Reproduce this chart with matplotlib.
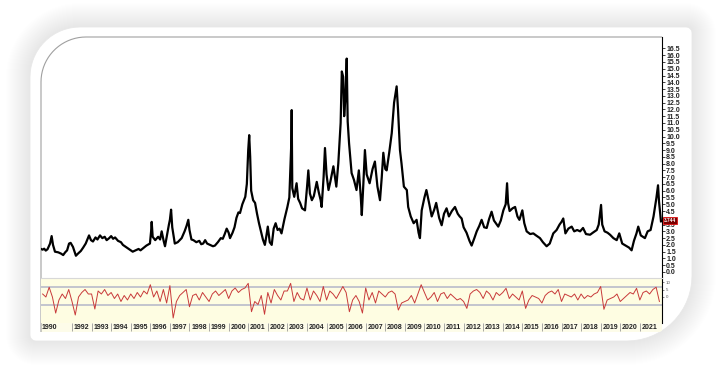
import numpy as np
import matplotlib
matplotlib.use("Agg")
import matplotlib.pyplot as plt
from matplotlib.path import Path
from matplotlib.patches import PathPatch, Rectangle
from matplotlib.transforms import ScaledTranslation

plt.rcParams['font.family'] = ['Liberation Sans', 'DejaVu Sans']

# price (decimal year, value)
price_years = [
    1990.42, 1990.50, 1990.58, 1990.66, 1990.75, 1990.88, 1990.96, 1991.03, 1991.13, 1991.30,
    1991.45, 1991.55, 1991.65, 1991.75, 1991.85, 1991.93, 1992.05, 1992.20, 1992.30, 1992.45,
    1992.57, 1992.70, 1992.80, 1992.87, 1992.97, 1993.07, 1993.20, 1993.30, 1993.43, 1993.55,
    1993.67, 1993.77, 1993.90, 1994.00, 1994.10, 1994.20, 1994.35, 1994.50, 1994.60, 1994.75,
    1994.90, 1995.00, 1995.10, 1995.25, 1995.40, 1995.50, 1995.63, 1995.80, 1995.98, 1996.04,
    1996.07, 1996.12, 1996.25, 1996.40, 1996.50, 1996.58, 1996.68, 1996.75, 1996.85, 1996.95,
    1997.00, 1997.06, 1997.12, 1997.25, 1997.40, 1997.50, 1997.60, 1997.75, 1997.85, 1997.94,
    1998.00, 1998.10, 1998.20, 1998.35, 1998.50, 1998.60, 1998.70, 1998.80, 1998.90, 1999.05,
    1999.20, 1999.30, 1999.45, 1999.60, 1999.70, 1999.80, 1999.90, 2000.00, 2000.07, 2000.20,
    2000.30, 2000.40, 2000.50, 2000.58, 2000.70, 2000.85, 2000.93, 2001.00, 2001.05, 2001.10,
    2001.15, 2001.25, 2001.35, 2001.45, 2001.55, 2001.65, 2001.75, 2001.85, 2001.92, 2002.00,
    2002.10, 2002.20, 2002.30, 2002.40, 2002.50, 2002.60, 2002.70, 2002.85, 2003.00, 2003.10,
    2003.20, 2003.22, 2003.25, 2003.35, 2003.47, 2003.55, 2003.65, 2003.75, 2003.90, 2004.00,
    2004.07, 2004.15, 2004.25, 2004.35, 2004.50, 2004.60, 2004.70, 2004.75, 2004.85, 2004.92,
    2005.00, 2005.10, 2005.20, 2005.35, 2005.45, 2005.50, 2005.60, 2005.68, 2005.72, 2005.78,
    2005.85, 2005.90, 2005.97, 2006.03, 2006.08, 2006.15, 2006.28, 2006.40, 2006.53, 2006.65,
    2006.75, 2006.80, 2006.88, 2006.96, 2007.05, 2007.20, 2007.35, 2007.47, 2007.60, 2007.73,
    2007.82, 2007.90, 2008.00, 2008.07, 2008.20, 2008.33, 2008.45, 2008.58, 2008.65, 2008.75,
    2008.83, 2008.95, 2009.10, 2009.17, 2009.30, 2009.45, 2009.60, 2009.70, 2009.77, 2009.86,
    2010.00, 2010.10, 2010.25, 2010.37, 2010.50, 2010.60, 2010.75, 2010.88, 2011.00, 2011.13,
    2011.25, 2011.40, 2011.56, 2011.70, 2011.80, 2011.90, 2012.00, 2012.15, 2012.30, 2012.41,
    2012.55, 2012.67, 2012.80, 2012.92, 2013.05, 2013.18, 2013.30, 2013.43, 2013.55, 2013.65,
    2013.77, 2013.90, 2014.03, 2014.15, 2014.22, 2014.27, 2014.35, 2014.50, 2014.63, 2014.75,
    2014.85, 2014.95, 2015.00, 2015.10, 2015.22, 2015.40, 2015.56, 2015.70, 2015.90, 2016.05,
    2016.24, 2016.40, 2016.58, 2016.75, 2016.90, 2017.00, 2017.09, 2017.20, 2017.35, 2017.52,
    2017.65, 2017.80, 2017.95, 2018.10, 2018.25, 2018.46, 2018.60, 2018.80, 2018.90, 2019.02,
    2019.08, 2019.20, 2019.35, 2019.48, 2019.65, 2019.82, 2019.95, 2020.10, 2020.33, 2020.45,
    2020.58, 2020.70, 2020.83, 2020.92, 2021.05, 2021.26, 2021.40, 2021.55, 2021.70, 2021.85,
    2021.93, 2021.98, 2022.03, 2022.08,
]
price_values = [
    1.70, 1.65, 1.72, 1.58, 1.68, 2.10, 2.65, 2.00, 1.50, 1.45,
    1.35, 1.25, 1.45, 1.60, 2.10, 2.15, 1.85, 1.20, 1.35, 1.55,
    1.80, 2.10, 2.45, 2.70, 2.35, 2.25, 2.55, 2.40, 2.70, 2.50,
    2.60, 2.35, 2.50, 2.65, 2.45, 2.55, 2.30, 2.20, 2.00, 1.85,
    1.70, 1.60, 1.50, 1.60, 1.70, 1.60, 1.75, 1.95, 2.10, 3.00,
    3.70, 2.60, 2.35, 2.60, 2.40, 3.00, 2.30, 1.90, 2.70, 3.50,
    3.85, 4.60, 3.30, 2.10, 2.20, 2.35, 2.50, 3.00, 3.40, 3.85,
    3.10, 2.40, 2.35, 2.20, 2.30, 2.05, 2.10, 2.35, 2.10, 2.00,
    1.90, 1.95, 2.20, 2.50, 2.45, 2.80, 3.20, 2.90, 2.50, 2.90,
    3.30, 4.00, 4.40, 4.35, 5.00, 5.55, 6.50, 9.00, 10.10, 8.50,
    6.00, 5.30, 5.10, 4.30, 3.60, 3.00, 2.40, 2.00, 2.60, 3.35,
    2.20, 2.00, 3.20, 3.60, 3.10, 3.20, 2.85, 3.90, 4.80, 5.50,
    9.50, 11.95, 6.20, 5.55, 6.55, 5.40, 5.10, 4.70, 4.55, 6.20,
    7.50, 5.80, 5.30, 5.60, 6.65, 5.90, 5.30, 4.80, 7.00, 9.15,
    7.20, 6.05, 6.70, 7.80, 6.80, 6.30, 8.00, 10.00, 11.00, 14.80,
    14.40, 11.50, 13.00, 15.75, 11.10, 9.50, 7.30, 6.80, 6.05, 7.50,
    5.50, 4.20, 6.50, 9.00, 7.20, 6.55, 7.60, 8.15, 6.30, 5.30,
    7.00, 8.80, 7.60, 7.50, 8.80, 10.25, 12.50, 13.70, 12.00, 9.00,
    8.00, 6.30, 6.05, 4.80, 4.10, 3.60, 3.85, 2.90, 2.50, 4.55,
    5.50, 6.05, 5.00, 4.10, 4.60, 5.10, 4.00, 3.45, 4.30, 4.70,
    4.10, 4.50, 4.80, 4.30, 4.10, 3.95, 3.30, 2.90, 2.30, 1.95,
    2.50, 3.00, 3.40, 3.85, 3.30, 3.25, 3.90, 4.45, 3.80, 3.60,
    3.35, 3.80, 4.55, 5.00, 6.55, 5.10, 4.50, 4.70, 4.80, 4.10,
    3.85, 4.30, 4.55, 3.60, 3.00, 2.80, 2.85, 2.70, 2.50, 2.20,
    1.90, 2.10, 2.85, 3.10, 3.50, 3.70, 3.95, 2.85, 3.20, 3.35,
    3.00, 3.10, 3.00, 3.25, 2.80, 2.75, 2.90, 3.10, 3.50, 4.95,
    3.50, 3.00, 2.90, 2.75, 2.50, 2.35, 2.85, 2.10, 1.90, 1.80,
    1.60, 2.30, 2.85, 3.35, 2.70, 2.50, 3.00, 3.10, 4.10, 5.50,
    6.40, 5.20, 4.50, 3.74,
]

# oscillator, one value every two months starting mid 1990
osc_start = 1990.5
osc_values = [
    2, 0, 6.5,
    0, -10.7, -2, 2, -1, 5,
    -3, -12, 0, 3, 5, 2,
    2, -8, 4, 2, 5, 1,
    3, -1, 2, -3, 1, -2,
    2, -1, 3, 0, 4, 2,
    8.2, 0, 4, -3, 5, -4,
    7.6, -14, -3, 1, 3, 5,
    -6.5, 1, 2, -2, 3, 0,
    -3, 2, 4, 1, 3, 5,
    -1, 4, 6, 3, 5, 6,
    9.1, -9.8, -3, -5, 1, -11.5,
    3, -4, 5, 1, -2, 4,
    4, 9.1, -3, 3, -1, -2,
    6, -2, 4, 1, -3, 7,
    -2, 4, 2, -1, 3, 7,
    3, -9.8, -2, 1, -3, -10.7,
    6, -2, 3, -4, 4, 2,
    0, 3, 4, 2, -8.7, -4,
    -3, -2, 1, -4, 2, 8.2,
    3, -2, 0, 3, -3, 2,
    3, -1, 2, 0, -2, -1,
    -3, -7.6, 2, 4, 5, 3,
    -1, 4, 2, -2, 3, 1,
    3, 5.8, -1, 2, 0, -2,
    4, -7.6, -2, 1, 0, -1,
    -4, 1, 3, 4, 2, 5,
    -3, 2, 1, 0, 2, -2,
    2, -1, 1, 0, 2, 3,
    7, -8.2, -2, -1, 0, 2,
    -3, -1, 1, 3, 2, 5.8,
    -2, 3, 4, 2, 5, 6.5,
    -3,
]
osc_years = osc_start + np.arange(len(osc_values)) / 6.0

year_ticks = list(range(1992, 2022))
price_ticks = np.arange(0, 16.51, 0.5)
last_value = "3.744"

W, H = 720, 371
fig = plt.figure(figsize=(W / 100, H / 100), dpi=100)
fig.patch.set_facecolor('white')


def fx(x):
    return x / W


def fy(y):
    return 1 - y / H


def card(l, r, t, b, rtl, rtr, rbr, rbl):
    pts = []
    def arc(cx, cy, rad, a0, a1):
        for a in np.linspace(a0, a1, 16):
            pts.append((cx + rad * np.cos(a), cy + rad * np.sin(a)))
    arc(l + rtl, t + rtl, rtl, np.pi, 1.5 * np.pi)
    arc(r - rtr, t + rtr, rtr, 1.5 * np.pi, 2 * np.pi)
    arc(r - rbr, b - rbr, rbr, 0, 0.5 * np.pi)
    arc(l + rbl, b - rbl, rbl, 0.5 * np.pi, np.pi)
    pts.append(pts[0])
    pts = [(fx(x), fy(y)) for x, y in pts]
    return Path(pts, closed=True)


# soft shadow + white card
for d in range(24, 0, -1):
    p = card(30 - d, 692 + d, 27 - d, 341 + d, 50 + d, 6 + d, 65 + d, 6 + d)
    fig.patches.append(PathPatch(p, transform=fig.transFigure, facecolor='k',
                                 edgecolor='none', alpha=0.0045, zorder=0))
card_patch = PathPatch(card(30, 692, 27, 341, 50, 6, 65, 6), transform=fig.transFigure,
                       facecolor='white', edgecolor='#e8e8e8', lw=0.6, zorder=1)
fig.patches.append(card_patch)

L, R = 41, 662
ax = fig.add_axes([fx(L), fy(277), (R - L) / W, (277 - 37) / H])
ax2 = fig.add_axes([fx(L), fy(323), (R - L) / W, (323 - 278) / H])
ax.set_zorder(3)
ax2.set_zorder(3)

xmin = 1992 - (72 - L) / 19.58
xmax = 1992 + (R - 72) / 19.58

# main price panel
ax.set_facecolor('none')
ax.plot(price_years, price_values, color='black', lw=1.6)
ax.set_xlim(xmin, xmax)
ax.set_ylim(-(277 - 272) / 13.55, (272 - 37) / 13.55)
ax.set_xticks([])
ax.yaxis.tick_right()
ax.set_yticks(price_ticks)
ax.set_yticklabels(["" if abs(v - 4.0) < 1e-9 else f"{v:.1f}" for v in price_ticks])
ax.tick_params(axis='y', length=2, width=0.6, pad=1, labelsize=5, colors='#222222')
for lab in ax.get_yticklabels():
    lab.set_fontweight('bold')
for s in ['top', 'left', 'bottom']:
    ax.spines[s].set_visible(False)
ax.spines['right'].set_linewidth(0.8)

# last value marker
ax.text(1.003, 3.82, last_value, transform=ax.get_yaxis_transform(), ha='left', va='center',
        fontsize=3.4, fontweight='bold', color='white',
        bbox=dict(boxstyle='square,pad=0.18', facecolor='#7a0000', edgecolor='#e01010', lw=0.6),
        zorder=5, clip_on=False)

# oscillator panel
ax2.set_facecolor('#fefde2')
ax2.patch.set_clip_path(card_patch)
ax2.axhline(7, color='#b9bccb', lw=1.2)
ax2.axhline(-5.5, color='#b9bccb', lw=1.2)
ln, = ax2.plot(osc_years, osc_values, color='#c83a3a', lw=0.7)
ln.set_clip_path(card_patch)
ax2.set_xlim(xmin, xmax)
ax2.set_ylim(-(323 - 297) / 1.5, (297 - 278) / 1.5)
ax2.yaxis.tick_right()
ax2.set_yticks([10, 5, 0])
ax2.tick_params(axis='y', length=1.5, width=0.5, pad=1, labelsize=3.2, colors='#555555')
for s in ['left', 'bottom']:
    ax2.spines[s].set_visible(False)
ax2.spines['top'].set_color('#d8d8d8')
ax2.spines['top'].set_linewidth(0.8)
ax2.spines['right'].set_linewidth(0.8)

ax2.set_xticks(year_ticks)
ax2.set_xticklabels([str(y) for y in year_ticks])
ax2.tick_params(axis='x', length=6, width=0.6, color='#9a9a9a', pad=-5.0,
                labelsize=5, labelcolor='#222222')
shift = ScaledTranslation(1.2 / 72, 0, fig.dpi_scale_trans)
for lab in ax2.get_xticklabels():
    lab.set_ha('left')
    lab.set_fontweight('bold')
    lab.set_transform(lab.get_transform() + shift)
    lab.set_clip_path(card_patch)
for t in ax2.xaxis.get_ticklines():
    t.set_clip_path(card_patch)
ax2.text(xmin + 0.02, -0.03, "1990", transform=ax2.get_xaxis_transform(), ha='left', va='top',
         fontsize=5, fontweight='bold', color='#222222')

# label strip background
strip = Rectangle((fx(L), fy(332)), (R - L) / W, 9 / H, transform=fig.transFigure,
                  facecolor='#fdfce9', edgecolor='none', zorder=1.5)
strip.set_clip_path(card_patch)
fig.patches.append(strip)

# rounded inner frame line
fr = []
for a in np.linspace(np.pi, 1.5 * np.pi, 20):
    fr.append((L + 45 + 45 * np.cos(a), 37 + 45 + 45 * np.sin(a)))
fr = [(L, 332)] + fr + [(R, 37)]
fig.patches.append(PathPatch(Path([(fx(x), fy(y)) for x, y in fr]), transform=fig.transFigure,
                             facecolor='none', edgecolor='#a0a0a0', lw=0.8, zorder=2))

fig.savefig('out.png', dpi=100, facecolor='white')
